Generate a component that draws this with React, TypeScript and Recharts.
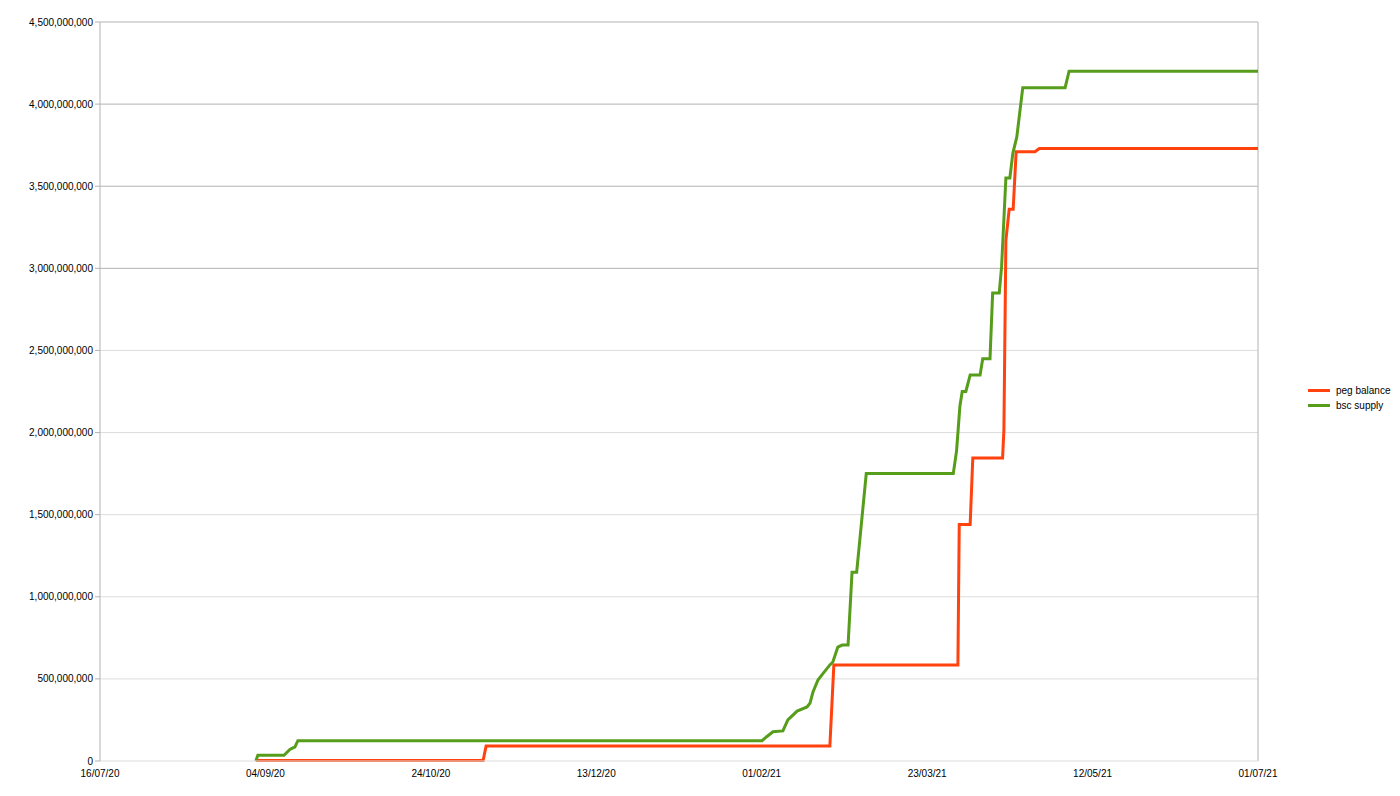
import { LineChart, Line, XAxis, YAxis, ReferenceLine } from "recharts";

// x values are days since 16/07/2020, y values in millions
const pegDays = [47.1, 115.8, 116.7, 220.6, 221.8, 259.3, 259.7, 263.0, 263.8, 272.8, 273.2, 273.8, 274.8, 276.0, 276.9, 282.6, 283.9, 350];
const pegBalance = [3, 3, 91, 91, 584, 584, 1440, 1440, 1845, 1845, 2015, 3170, 3360, 3360, 3710, 3710, 3730, 3730];

const bscDays = [
  47.1, 47.7, 55.6, 57.4, 58.3, 58.9, 59.8, 200.1, 201.5, 203.4, 206.4, 207.9, 210.7, 213.7, 214.6, 215.5,
  217.0, 218.2, 220.6, 221.5, 223.0, 224.3, 226.1, 227.3, 228.7, 231.6, 257.9, 258.9, 259.9, 260.6, 261.7,
  263.0, 266.0, 266.8, 269.0, 269.8, 271.8, 272.5, 273.8, 275.0, 275.9, 277.1, 278.9, 291.7, 292.9, 350,
];
const bscSupply = [
  0, 35, 35, 70, 80, 85, 124, 124, 148, 178, 183, 250, 304, 329, 353, 420,
  493, 524, 585, 603, 694, 706, 706, 1150, 1150, 1750, 1750, 1890, 2160, 2250, 2250,
  2350, 2350, 2450, 2450, 2850, 2850, 3010, 3550, 3550, 3700, 3800, 4100, 4100, 4200, 4200,
];

const xTicks = [0, 50, 100, 150, 200, 250, 300, 350];
const yTicks = [0, 500, 1000, 1500, 2000, 2500, 3000, 3500, 4000, 4500];

const pegData = pegDays.map((d, i) => ({ d, v: pegBalance[i] }));
const bscData = bscDays.map((d, i) => ({ d, v: bscSupply[i] }));

const START = Date.UTC(2020, 6, 16);
const fmtDate = (d: number) => {
  const dt = new Date(START + d * 86400000);
  const dd = String(dt.getUTCDate()).padStart(2, "0");
  const mm = String(dt.getUTCMonth() + 1).padStart(2, "0");
  const yy = String(dt.getUTCFullYear() % 100).padStart(2, "0");
  return `${dd}/${mm}/${yy}`;
};
const fmtVal = (v: number) => (v * 1000000).toLocaleString("en-US");

const font = "'Liberation Sans', Arial, sans-serif";

const legendItems = [
  { name: "peg balance", color: "#ff420e" },
  { name: "bsc supply", color: "#579d1c" },
];

function LegendBox() {
  return (
    <div style={{ position: "absolute", left: 1308, top: 383, fontFamily: font, fontSize: 10, color: "#000" }}>
      {legendItems.map((it) => (
        <div key={it.name} style={{ display: "flex", alignItems: "center", height: 15 }}>
          <div style={{ width: 22, height: 3, background: it.color, marginRight: 6 }} />
          <span>{it.name}</span>
        </div>
      ))}
    </div>
  );
}

export default function App() {
  return (
    <div style={{ position: "absolute", left: 0, top: 0, width: 1400, height: 796, background: "#fff" }}>
      <LineChart width={1400} height={796} margin={{ top: 22, right: 142, bottom: 0, left: 0 }}>
        <XAxis
          type="number"
          dataKey="d"
          domain={[0, 350]}
          ticks={xTicks}
          tickFormatter={fmtDate}
          height={35}
          tickLine={false}
          tickSize={0}
          tickMargin={9}
          axisLine={{ stroke: "#dddddd" }}
          tick={{ fontSize: 10, fill: "#000", fontFamily: font }}
          allowDuplicatedCategory={false}
        />
        <YAxis
          type="number"
          dataKey="v"
          domain={[0, 4500]}
          ticks={yTicks}
          tickFormatter={fmtVal}
          width={100}
          tickSize={5}
          tickMargin={2}
          tickLine={{ stroke: "#b3b3b3" }}
          axisLine={{ stroke: "#b3b3b3" }}
          tick={{ fontSize: 10, fill: "#000", fontFamily: font }}
        />
        {yTicks.slice(1).map((t) => (
          <ReferenceLine key={t} y={t} stroke={t >= 3000 ? "#b3b3b3" : "#dddddd"} strokeWidth={1} />
        ))}
        <ReferenceLine x={350} stroke="#b3b3b3" strokeWidth={1} />
        <Line
          data={pegData}
          dataKey="v"
          name="peg balance"
          type="linear"
          stroke="#ff420e"
          strokeWidth={3}
          dot={false}
          isAnimationActive={false}
        />
        <Line
          data={bscData}
          dataKey="v"
          name="bsc supply"
          type="linear"
          stroke="#579d1c"
          strokeWidth={3}
          dot={false}
          isAnimationActive={false}
        />
      </LineChart>
      <LegendBox />
    </div>
  );
}
